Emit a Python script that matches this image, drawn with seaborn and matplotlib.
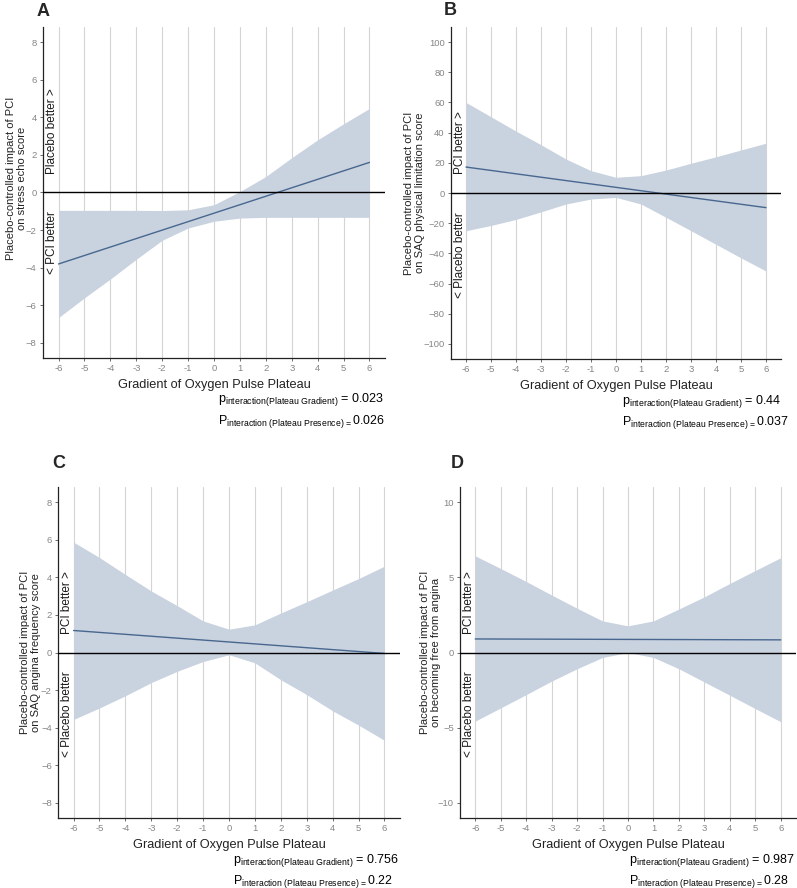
import matplotlib
matplotlib.use("Agg")
import matplotlib.pyplot as plt
import seaborn as sns
import numpy as np

sns.set_style("ticks")
plt.rcParams['font.family'] = ['Liberation Sans', 'DejaVu Sans']
plt.rcParams['mathtext.fontset'] = 'custom'
plt.rcParams['mathtext.rm'] = 'Liberation Sans'
plt.rcParams['mathtext.it'] = 'Liberation Sans:italic'
plt.rcParams['mathtext.bf'] = 'Liberation Sans:bold'

# ---- data ----
gradient = [-6, -5, -4, -3, -2, -1, 0, 1, 2, 3, 4, 5, 6]
line_x = [-6, 6]

# A: stress echo score
a_est = [-3.8, 1.6]
a_lower = [-6.65, -5.6, -4.6, -3.55, -2.54, -1.89, -1.53, -1.36, -1.32, -1.32, -1.32, -1.32, -1.32]
a_upper = [-0.95, -0.95, -0.95, -0.95, -0.96, -0.92, -0.65, 0.05, 0.85, 1.85, 2.8, 3.65, 4.47]

# B: SAQ physical limitation score
b_est = [17.2, -9.7]
b_lower = [-25, -21.5, -17.5, -12.5, -7.3, -4.0, -2.9, -7.3, -16.1, -25, -34, -43, -51.7]
b_upper = [60, 50.5, 41, 32, 22.5, 14.8, 10.4, 11.5, 15.2, 19.7, 24, 28.5, 33]

# C: SAQ angina frequency score
c_est = [1.17, -0.05]
c_lower = [-3.56, -2.95, -2.3, -1.6, -1.0, -0.48, -0.12, -0.55, -1.45, -2.24, -3.1, -3.86, -4.67]
c_upper = [5.87, 5.05, 4.15, 3.27, 2.49, 1.68, 1.24, 1.47, 2.1, 2.7, 3.32, 3.93, 4.59]

# D: becoming free from angina
d_est = [0.9, 0.84]
d_lower = [-4.56, -3.68, -2.8, -1.9, -1.08, -0.33, 0.0, -0.33, -1.08, -1.96, -2.84, -3.73, -4.6]
d_upper = [6.42, 5.58, 4.72, 3.82, 2.94, 2.1, 1.77, 2.1, 2.89, 3.7, 4.59, 5.45, 6.3]

panel_letters = ["A", "B", "C", "D"]
outcomes = ["on stress echo score", "on SAQ physical limitation score",
            "on SAQ angina frequency score", "on becoming free from angina"]
p_gradient = ["0.023", "0.44", "0.756", "0.987"]
p_presence = ["0.026", "0.037", "0.22", "0.28"]
upper_notes = ["Placebo better >", "PCI better >", "PCI better >", "PCI better >"]
lower_notes = ["< PCI better", "< Placebo better", "< Placebo better", "< Placebo better"]
y_ticks = [np.arange(-8, 9, 2), np.arange(-100, 101, 20), np.arange(-8, 9, 2), [-10, -5, 0, 5, 10]]
y_limits = [(-8.8, 8.8), (-110, 110), (-8.8, 8.8), (-11, 11)]

series = [(a_est, a_lower, a_upper), (b_est, b_lower, b_upper),
          (c_est, c_lower, c_upper), (d_est, d_lower, d_upper)]

# ---- layout (pixels of a 797x888 canvas) ----
W, H = 797, 888
# left, top, right, bottom of each panel
boxes = [(43, 27, 385, 358), (451, 27, 781, 359), (58, 487, 400, 818), (460, 487, 796, 818)]
ylab_x = [27, 425, 41, 441]
ylab_y = [0.544, 0.5, 0.5, 0.5]
p_left = [218, 622, 233, 629]
letter_pos = [(37, 3), (444, 2), (52, 455), (451, 455)]

LINE_COL = "#48678f"
BAND_COL = "#c9d2df"

fig = plt.figure(figsize=(W / 100, H / 100), dpi=100)

for i in range(4):
    l, t, r, b = boxes[i]
    w, h = r - l, b - t
    ax = fig.add_axes([l / W, (H - b) / H, w / W, h / H])
    est, lo, up = series[i]

    ax.fill_between(gradient, lo, up, color=BAND_COL, lw=0, zorder=2)
    sns.lineplot(x=line_x, y=est, ax=ax, color=LINE_COL, linewidth=1.0, zorder=3)
    ax.axhline(0, color="black", linewidth=1.0, zorder=4)

    ax.set_xlim(-6.6, 6.6)
    ax.set_ylim(*y_limits[i])
    ax.set_xticks(gradient)
    ax.set_xticklabels([str(g) for g in gradient])
    ax.set_yticks(y_ticks[i])
    ax.set_axisbelow(True)
    ax.grid(axis="x", color="#d4d4d4", linewidth=0.8)
    ax.grid(axis="y", visible=False)

    for side in ["top", "right"]:
        ax.spines[side].set_visible(False)
    for side in ["left", "bottom"]:
        ax.spines[side].set_color("#222222")
        ax.spines[side].set_linewidth(0.9)
    ax.tick_params(axis="both", labelsize=6.8, labelcolor="#858585", color="#555555",
                   length=2.5, width=0.6, pad=2)

    ax.set_xlabel("Gradient of Oxygen Pulse Plateau", fontsize=9.2, color="#222222")
    ax.xaxis.set_label_coords(0.5, -21 / h)
    ax.set_ylabel("Placebo-controlled impact of PCI\n" + outcomes[i], fontsize=8.0,
                  color="#222222", linespacing=1.15)
    ax.yaxis.set_label_coords((ylab_x[i] - l) / w, ylab_y[i])

    # direction notes
    ax.text(-6.25, y_limits[i][1] / 8.8, upper_notes[i], rotation=90, ha="center",
            va="bottom", fontsize=8.5, color="#1a1a1a", zorder=5)
    ax.text(-6.25, -y_limits[i][1] / 8.8, lower_notes[i], rotation=90, ha="center",
            va="top", fontsize=8.5, color="#1a1a1a", zorder=5)

    # interaction p-values
    x0 = (p_left[i] - l) / w
    ax.text(x0, -42 / h,
            r"$\mathrm{p}_{\mathrm{interaction(Plateau\ Gradient)}}$ = " + p_gradient[i],
            transform=ax.transAxes, ha="left", va="center", fontsize=9, color="black")
    ax.text(x0, -63 / h,
            r"$\mathrm{P}_{\mathrm{interaction\ (Plateau\ Presence)\,=}}$" + p_presence[i],
            transform=ax.transAxes, ha="left", va="center", fontsize=8.9, color="black")

    fig.text(letter_pos[i][0] / W, 1 - letter_pos[i][1] / H, panel_letters[i],
             ha="left", va="top", fontsize=13, fontweight="bold")

fig.savefig("out.png", dpi=100)
